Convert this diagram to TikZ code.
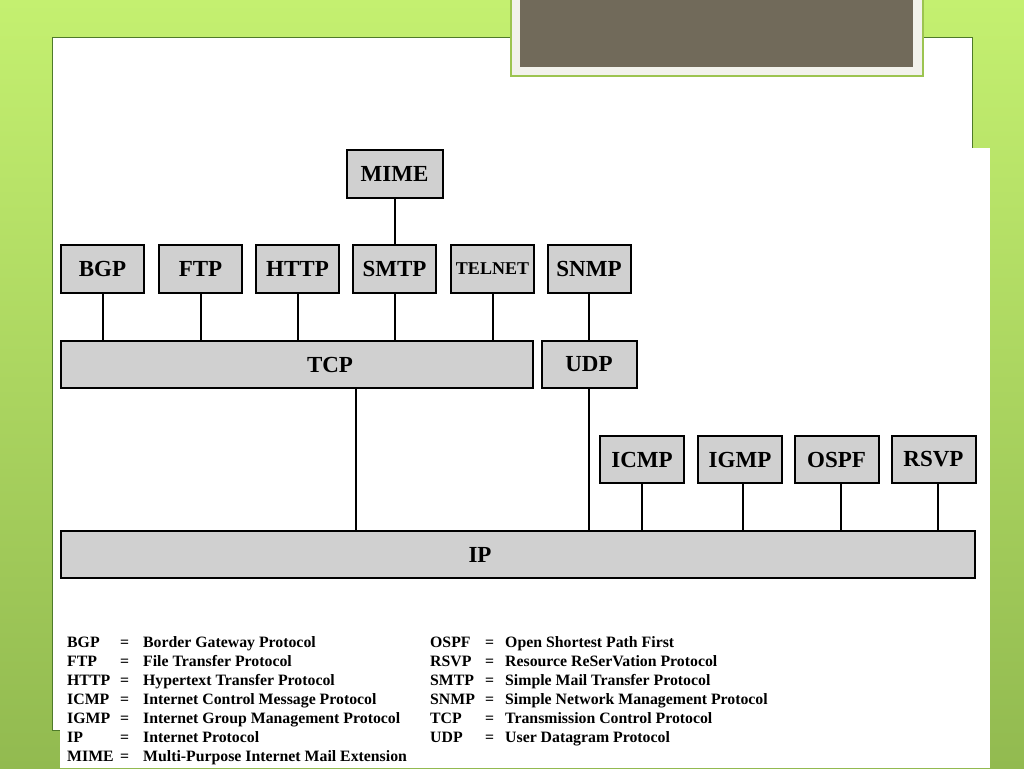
\documentclass[tikz,border=0pt]{standalone}
\usepackage{fontspec}
\setmainfont{Liberation Serif}
\usetikzlibrary{positioning}
\definecolor{bgtop}{HTML}{C4F070}
\definecolor{bgbottom}{HTML}{92BA50}
\definecolor{panelline}{HTML}{4E7A2A}
\definecolor{titleedge}{HTML}{F2F2EC}
\definecolor{titlegreen}{HTML}{9CC450}
\definecolor{titlefill}{HTML}{716A5A}
\definecolor{boxgray}{HTML}{D0D0D0}
\tikzset{
  protofont/.style={font=\fontsize{23}{23}\selectfont\bfseries},
  proto/.style={draw, line width=2pt, fill=boxgray, inner sep=0pt,
    minimum width=83pt, minimum height=48pt, protofont},
  bar/.style={proto, minimum height=47pt},
  link/.style={line width=2pt},
  legtext/.style={anchor=base west, inner sep=0pt,
    font=\fontsize{15.8}{15.8}\selectfont\bfseries}
}
\begin{document}
\begin{tikzpicture}[x=1pt, y=-1pt]
    \useasboundingbox (0,0) rectangle (1024,768);
    % slide background
    \shade[top color=bgtop, bottom color=bgbottom] (0,0) rectangle (1024,768);
    \draw[fill=white, draw=panelline, line width=1pt] (52,38) rectangle (972,730);
    \draw[fill=titleedge, draw=titlegreen, line width=1.2pt] (511,-5) rectangle (923,76);
    \fill[titlefill] (520,-5) rectangle (913,67);
    \fill[white] (60,148) rectangle (990,768);

    % protocol boxes
    \node[proto, minimum width=96pt] (mime) at (394.5,174) {MIME};
    \node[proto] (bgp) at (102.5,269) {BGP};
    \node[proto] (ftp) at (200.5,269) {FTP};
    \node[proto] (http) at (297.5,269) {HTTP};
    \node[proto] (smtp) at (394.5,269) {SMTP};
    \node[proto, font=\fontsize{18}{18}\selectfont\bfseries] (telnet) at (492.5,269) {TELNET};
    \node[proto] (snmp) at (589,269) {SNMP};
    \node[bar, minimum width=472pt, label={[protofont, xshift=33pt]center:TCP}] (tcp) at (297,364.5) {};
    \node[bar, minimum width=95pt] (udp) at (589,364.5) {UDP};
    \node[bar, minimum width=84pt] (icmp) at (642,459.5) {ICMP};
    \node[bar, minimum width=84pt] (igmp) at (740,459.5) {IGMP};
    \node[bar, minimum width=84pt] (ospf) at (836.5,459.5) {OSPF};
    \node[bar, minimum width=84pt] (rsvp) at (933.5,459.5) {RSVP};
    \node[bar, minimum width=914pt, label={[protofont, xshift=-38pt]center:IP}] (ip) at (518,554.5) {};

    % connections
    \draw[link] (mime.south) -- (smtp.north);
    \foreach \n in {bgp,ftp,http,smtp,telnet}
        \draw[link] (\n.south) -- (\n.south |- tcp.north);
    \draw[link] (snmp.south) -- (udp.north);
    \draw[link] (udp.south) -- (udp.south |- ip.north);
    \coordinate (tcpdrop) at (356,0);
    \draw[link] (tcp.south -| tcpdrop) -- (ip.north -| tcpdrop);
    \foreach \n/\s in {icmp/0,igmp/3,ospf/4,rsvp/4}
        \draw[link] ([xshift=\s pt]\n.south) -- ([xshift=\s pt]\n.south |- ip.north);

    % legend
    \foreach \ab/\full [count=\i from 0] in {BGP/Border Gateway Protocol, FTP/File Transfer Protocol,
        HTTP/Hypertext Transfer Protocol, ICMP/Internet Control Message Protocol,
        IGMP/Internet Group Management Protocol, IP/Internet Protocol,
        MIME/Multi-Purpose Internet Mail Extension} {
        \node[legtext] (lab-\i) at (67,{647+19.1*\i}) {\ab};
        \node[legtext] (leq-\i) at (120,{647+19.1*\i}) {=};
        \node[legtext] (lfull-\i) at (143,{647+19.1*\i}) {\full};
    }
    \foreach \ab/\full [count=\i from 0] in {OSPF/Open Shortest Path First, RSVP/Resource ReSerVation Protocol,
        SMTP/Simple Mail Transfer Protocol, SNMP/Simple Network Management Protocol,
        TCP/Transmission Control Protocol, UDP/User Datagram Protocol} {
        \node[legtext] (rab-\i) at (430,{647+19.1*\i}) {\ab};
        \node[legtext] (req-\i) at (485,{647+19.1*\i}) {=};
        \node[legtext] (rfull-\i) at (505,{647+19.1*\i}) {\full};
    }
\end{tikzpicture}
\end{document}
